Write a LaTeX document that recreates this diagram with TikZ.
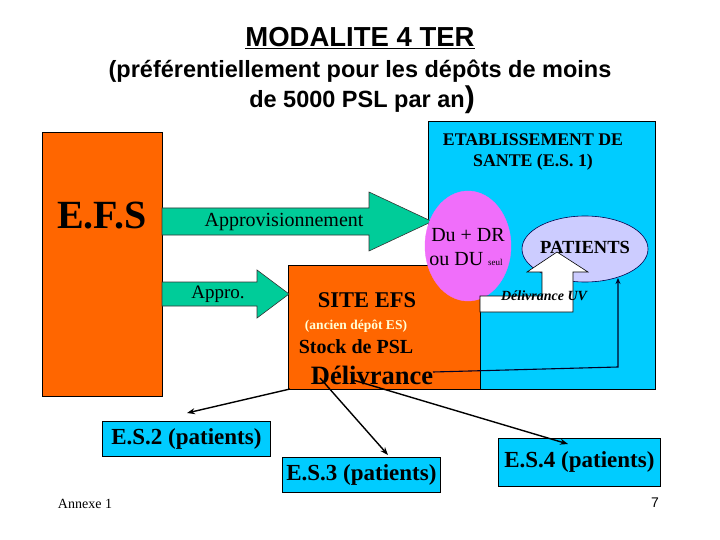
\documentclass[tikz,border=0pt]{standalone}
\usepackage{fontspec}
\setmainfont{Liberation Serif}
\setsansfont{Liberation Sans}
\usetikzlibrary{shapes.geometric,arrows.meta}
\definecolor{efsorange}{RGB}{255,102,0}
\definecolor{escyan}{RGB}{0,204,255}
\definecolor{arrgreen}{RGB}{0,204,153}
\definecolor{dupink}{RGB}{240,110,250}
\definecolor{patlav}{RGB}{204,204,255}
\definecolor{paleyel}{RGB}{255,255,215}
\newcommand{\fsz}[1]{\fontsize{#1}{#1}\selectfont}
\begin{document}
\begin{tikzpicture}[x=1pt,y=-1pt,
  box/.style={draw=black, line width=0.8pt, inner sep=0pt, anchor=north west},
  blockarrow/.style={draw=black!80, line width=0.6pt, fill=arrgreen},
  conn/.style={draw=black, line width=1.4pt, -{Stealth[length=8pt,width=6pt]}},
  thinconn/.style={draw=black!85!blue, line width=1.1pt, -{Stealth[length=6pt,width=5pt]}},
  lbl/.style={inner sep=0pt, anchor=center}]
\useasboundingbox (0,0) rectangle (720,540);

% title
\node[lbl, font=\sffamily\bfseries\fsz{27.5}] (title) at (360,38) {\underline{MODALITE 4 TER}};
\node[lbl, font=\sffamily\bfseries\fsz{23.5}] (sub1) at (360,71) {(préférentiellement pour les dépôts de moins};
\node[lbl, font=\sffamily\bfseries\fsz{23.5}] (sub2) at (362,100) {de 5000 PSL par an{\fsz{30})}};

% main boxes
\node[box, fill=efsorange, minimum width=120pt, minimum height=264pt] (efs) at (42,132) {};
\node[lbl, font=\bfseries\fsz{40}] (efslbl) at (102,216) {E.F.S};

\node[box, fill=escyan, minimum width=227pt, minimum height=268pt] (es1) at (428,121) {};
\node[lbl, font=\bfseries\fsz{17.8}, align=center] (es1lbl) at (533,152) {ETABLISSEMENT DE\\[4pt]SANTE (E.S. 1)};

\node[box, fill=efsorange, minimum width=192pt, minimum height=124pt] (site) at (288,265) {};

% green arrows
\path[blockarrow] (162,208) -- (369,208) -- (369,192) -- (432,221.5) -- (369,251) -- (369,235) -- (162,235) -- cycle;
\node[lbl, font=\fsz{20}] (appro1) at (284,222) {Approvisionnement};
\path[blockarrow] (162,282) -- (257,282) -- (257,270) -- (289,294) -- (257,318) -- (257,306) -- (162,306) -- cycle;
\node[lbl, font=\fsz{19}] (appro2) at (218,294) {Appro.};

% ellipses
\node[ellipse, fill=dupink, draw=dupink, minimum width=86pt, minimum height=110pt, inner sep=0pt] (du) at (468,246) {};
\node[lbl, font=\fsz{20}] (dulbl1) at (468,235) {Du + DR};
\node[lbl, font=\fsz{20}] (dulbl2) at (466,259) {ou DU {\fsz{9}seul}};

\node[ellipse, fill=patlav, draw=black!70!blue, line width=0.6pt, minimum width=126pt, minimum height=66pt, inner sep=0pt] (pat) at (585,249) {};
\node[lbl, font=\bfseries\fsz{18.5}] (patlbl) at (585,247) {PATIENTS};

% white L arrow
\path[draw=black, line width=0.6pt, fill=white] (480,296) -- (542,296) -- (542,272) -- (527,272) -- (557,252) -- (588,272) -- (573,272) -- (573,312) -- (480,312) -- cycle;
\node[lbl, font=\bfseries\itshape\fsz{14}] (uvlbl) at (544,296) {Délivrance UV};

% site EFS texts
\node[lbl, font=\bfseries\fsz{22.5}] (sitelbl) at (367,300) {SITE EFS};
\node[lbl, font=\bfseries\fsz{13.5}, text=paleyel] (ancien) at (356,326) {(ancien dépôt ES)};
\node[lbl, font=\bfseries\fsz{20}] (stock) at (356,347) {Stock de PSL};
\node[lbl, font=\bfseries\fsz{26.5}] (deliv) at (372,375) {Délivrance};

% ES boxes
\node[box, fill=escyan, minimum width=168pt, minimum height=35pt] (es2) at (102,421) {};
\node[lbl, font=\bfseries\fsz{23}] at (es2.center) {E.S.2 (patients)};
\node[box, fill=escyan, minimum width=158pt, minimum height=35pt] (es3) at (282,457) {};
\node[lbl, font=\bfseries\fsz{23}] at (es3.center) {E.S.3 (patients)};
\node[box, fill=escyan, minimum width=162pt, minimum height=48pt] (es4) at (498,438) {};
\node[lbl, font=\bfseries\fsz{23}] at (es4.center) {E.S.4 (patients)};

% connectors
\coordinate (d2) at (290,389);
\coordinate (d3) at (320,378);
\coordinate (d4) at (353,380);
\coordinate (t2) at (187,413);
\coordinate (t3) at (388,455);
\coordinate (t4) at (568,444);
\draw[conn] (d2) -- (t2);
\draw[conn] (d3) -- (t3);
\draw[conn] (d4) -- (t4);

\coordinate (dp0) at (433,372);
\coordinate (dp1) at (618,367);
\coordinate (dp2) at (618,278);
\draw[thinconn] (dp0) -- (dp1) -- (dp2);

% footer
\node[lbl, font=\fsz{14}] (annexe) at (85,504) {Annexe 1};
\node[lbl, font=\sffamily\fsz{14}] (pagenum) at (655,503) {7};
\end{tikzpicture}
\end{document}
